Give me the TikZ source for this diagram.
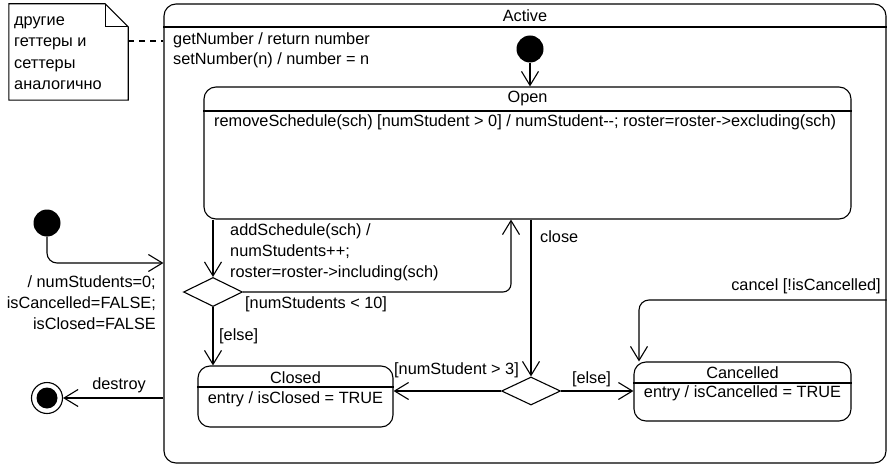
\documentclass[tikz,border=0pt]{standalone}
\usepackage{fontspec}
\setmainfont{Liberation Sans}
\usetikzlibrary{arrows.meta,shapes.geometric}
\begin{document}
\begin{tikzpicture}[x=1pt,y=-1pt,
  every node/.style={font=\fontsize{16.3}{20}\selectfont, inner sep=0pt},
  stbox/.style={draw, line width=1.1pt, rounded corners=12pt},
  lbl/.style={align=left},
  ln/.style={line width=1.1pt},
  arr/.style={line width=1.1pt, -{Straight Barb[length=14pt,width=17pt,line width=1.1pt]}},
  initst/.style={circle, fill=black, minimum size=27pt},
  dec/.style={diamond, draw, line width=1.1pt, inner sep=0pt}]
\useasboundingbox (0,0) rectangle (888,468);

% Active composite state
\node[stbox, minimum width=722pt, minimum height=459pt] (Active) at (525,233.5) {};
\draw[ln] (Active.west |- 0,27) -- (Active.east |- 0,27);
\node (activet) at (525,16) {Active};
\node[lbl, anchor=west, font=\fontsize{16.3}{20}\selectfont] (acttxt) at (173,50) {getNumber / return number\\setNumber(n) / number = n};

% note
\node[minimum width=119pt, minimum height=96pt] (note) at (68.5,52) {};
\draw[ln] (note.north west) -- ([xshift=-23pt]note.north east) -- ([yshift=-23pt]note.north east) -- (note.south east) -- (note.south west) -- cycle;
\draw[ln] ([xshift=-23pt]note.north east) -- ([xshift=-23pt,yshift=-23pt]note.north east) -- ([yshift=-23pt]note.north east);
\node[lbl, anchor=north west, font=\fontsize{16.3}{21.3}\selectfont] (notetxt) at (14,16.5) {другие\\геттеры и\\сеттеры\\аналогично};
\draw[ln, dash pattern=on 6pt off 5pt] (note.east |- 0,41) -- (Active.west |- 0,41);

% Open
\node[stbox, minimum width=647pt, minimum height=132pt] (Open) at (527.5,153) {};
\draw[ln] (Open.west |- 0,111) -- (Open.east |- 0,111);
\node (opent) at (527.5,98.5) {Open};
\node[anchor=west] (opentxt) at (214,122) {removeSchedule(sch) [numStudent > 0] / numStudent-{}-; roster=roster->excluding(sch)};

% initial inside Active
\node[initst] (init1) at (530,49) {};
\draw[arr] (init1) -- (init1 |- Open.north);

% Closed
\node[stbox, minimum width=195pt, minimum height=61pt] (Closed) at (295.5,396.5) {};
\draw[ln] (Closed.west |- 0,387) -- (Closed.east |- 0,387);
\node (closedt) at (295.5,377.5) {Closed};
\node (closedtxt) at (295.5,399) {entry / isClosed = TRUE};

% Cancelled
\node[stbox, minimum width=217pt, minimum height=59pt] (Cancelled) at (742.5,391.5) {};
\draw[ln] (Cancelled.west |- 0,383) -- (Cancelled.east |- 0,383);
\node (cancelt) at (742.5,373) {Cancelled};
\node (canceltxt) at (742.5,393.5) {entry / isCancelled = TRUE};

% decisions
\node[dec, minimum width=59pt, minimum height=29pt] (d1) at (213,292) {};
\node[dec, minimum width=59pt, minimum height=28pt] (d2) at (531,391) {};

% outer initial
\node[initst] (init2) at (47,223) {};
\coordinate (a1) at (Active.west |- 0,263);
\draw[arr, rounded corners=10pt] (init2) |- (a1);
\node[align=right, anchor=east, font=\fontsize{16.3}{21}\selectfont] (initlbl) at (156,303) {/ numStudents=0;\\isCancelled=FALSE;\\isClosed=FALSE};

% final
\node[circle, draw, line width=1.1pt, minimum size=31pt] (final) at (47,398) {};
\node[circle, fill=black, minimum size=21pt] (finalin) at (final) {};
\draw[arr] (Active.west |- final) -- (final);
\node (destroy) at (119,385) {destroy};

% Open -> d1
\draw[arr] (Open.south -| d1) -- (d1.north);
\node[lbl, anchor=west, font=\fontsize{16.3}{21}\selectfont] (addlbl) at (230,252) {addSchedule(sch) /\\numStudents++;\\roster=roster->including(sch)};
% d1 -> Open (loop)
\draw[arr, rounded corners=8pt] (d1.east) -| ([xshift=-16.5pt]Open.south);
\node[anchor=west] (lt10) at (245,304.5) {[numStudents < 10]};
% d1 -> Closed
\draw[arr] (d1.south) -- (d1.south |- Closed.north);
\node[anchor=west] (else1) at (219,336) {[else]};

% Open -> d2 (close)
\draw[arr] (Open.south -| d2) -- (d2.north);
\node[anchor=west] (closelbl) at (540,237) {close};
% d2 -> Closed
\draw[arr] (d2.west) -- (d2.west -| Closed.east);
\node (gt3) at (456.5,370) {[numStudent > 3]};
% d2 -> Cancelled
\draw[arr] (d2.east) -- (d2.east -| Cancelled.west);
\node (else2) at (591.5,379) {[else]};

% cancel
\coordinate (c1) at (Active.east |- 0,300);
\draw[arr, rounded corners=10pt] (c1) -| ([xshift=-103.5pt]Cancelled.north);
\node[anchor=east] (cancellbl) at (881,286) {cancel [!isCancelled]};
\end{tikzpicture}
\end{document}
